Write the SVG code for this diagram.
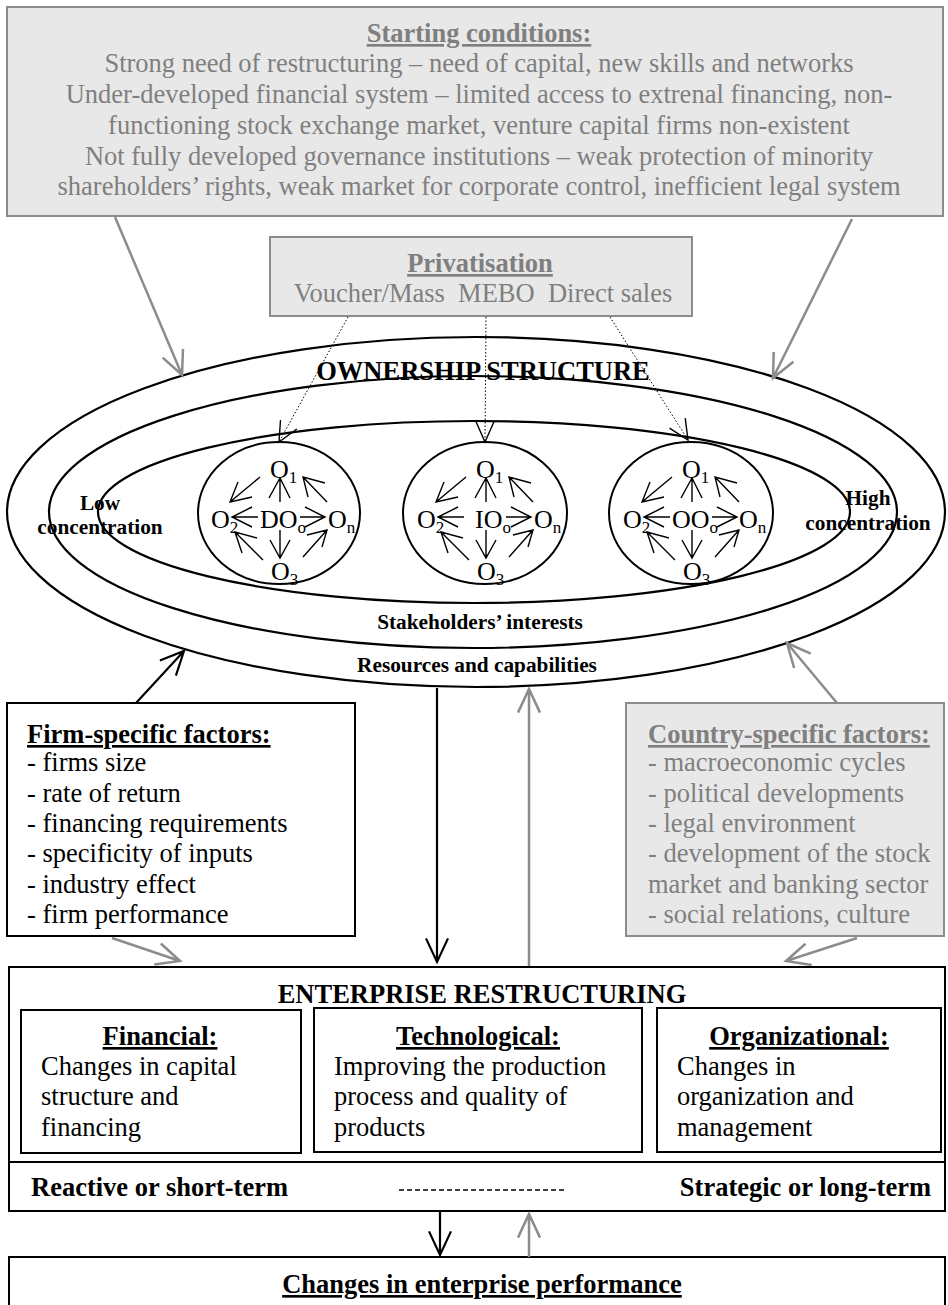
<svg xmlns="http://www.w3.org/2000/svg" xmlns:xlink="http://www.w3.org/1999/xlink" width="948" height="1305" viewBox="0 0 948 1305">
  <defs>
    <style>
      text { font-family: "Liberation Serif", "Times New Roman", serif; font-size: 26.5px; fill: #000; }
      .b { font-weight: bold; }
      .u { text-decoration: underline; }
      .g { fill: #7f7f7f; }
      .mid { text-anchor: middle; }
      .end { text-anchor: end; }
      .small { font-size: 21.3px; font-weight: bold; }
      .own { font-size: 26px; }
      .sub { font-size: 17px; }
      .box { fill: #fff; stroke: #000; stroke-width: 2; }
      .gbox { fill: #e8e8e8; stroke: #8c8c8c; stroke-width: 2; }
      .ring { fill: none; stroke: #000; stroke-width: 2.2; }
      .cir { fill: none; stroke: #000; stroke-width: 2; }
      .ga { fill: none; stroke: #8c8c8c; stroke-width: 2.5; }
      .ka { fill: none; stroke: #000; stroke-width: 2.2; }
      .inner { fill: none; stroke: #000; stroke-width: 1.4; }
      .dot { fill: none; stroke: #000; stroke-width: 1; stroke-dasharray: 1.5 2; }
      .dash { fill: none; stroke: #000; stroke-width: 1.3; stroke-dasharray: 5 3; }
    </style>
    <!-- owner-to-owner arrows drawn around a circle centre at (0,0) -->
    <path id="ownerArrows" class="inner" d="
      M1,-11 V-35 M-10,-15 L1,-35 L11,-15
      M1,17 V45 M-9,27 L1,45 L11,27
      M-21,4 H-47 M-27,-6 L-47,4 L-27,14
      M21,4 H46 M26,-6 L46,4 L26,14
      M-19,-36 L-49,-11 M-41,-31 L-49,-11 L-27,-16
      M48,-11 L24,-36 M29,-16 L24,-36 L46,-30
      M-16,47 L-44,19 M-37,40 L-44,19 L-22,25
      M24,44 L48,17 M28,22 L48,17 L43,34"/>
  </defs>

  <rect x="0" y="0" width="948" height="1305" fill="#fff"/>

  <!-- Starting conditions -->
  <g id="starting-conditions">
    <rect class="gbox" x="7" y="7" width="936" height="209"/>
    <text class="g b u mid" x="479" y="42">Starting conditions:</text>
    <text class="g mid" x="479" y="72">Strong need of restructuring – need of capital, new skills and networks</text>
    <text class="g mid" x="479" y="103">Under-developed financial system – limited access to extrenal financing, non-</text>
    <text class="g mid" x="479" y="134">functioning stock exchange market, venture capital firms non-existent</text>
    <text class="g mid" x="479" y="164.5">Not fully developed governance institutions – weak protection of minority</text>
    <text class="g mid" x="479" y="195">shareholders’ rights, weak market for corporate control, inefficient legal system</text>
  </g>

  <!-- Privatisation -->
  <g id="privatisation">
    <rect class="gbox" x="270" y="237" width="422" height="79"/>
    <text class="g b u mid" x="480" y="272">Privatisation</text>
    <text class="g mid" x="483" y="302" xml:space="preserve" style="white-space:pre">Voucher/Mass  MEBO  Direct sales</text>
  </g>

  <!-- Ownership structure rings -->
  <g id="ownership-structure">
    <ellipse class="ring" cx="476" cy="512" rx="469" ry="175"/>
    <ellipse class="ring" cx="473" cy="512" rx="424" ry="136"/>
    <ellipse class="ring" cx="474" cy="512" rx="376" ry="91"/>
    <text class="b mid" x="483" y="380">OWNERSHIP STRUCTURE</text>
    <text class="small mid" x="480" y="629">Stakeholders’ interests</text>
    <text class="small mid" x="477" y="672">Resources and capabilities</text>
    <text class="small mid" x="100" y="510">Low</text>
    <text class="small mid" x="100" y="534">concentration</text>
    <text class="small mid" x="868" y="505">High</text>
    <text class="small mid" x="868" y="530">concentration</text>
  </g>

  <!-- Dispersed ownership -->
  <g id="owners-do">
    <ellipse class="cir" cx="279" cy="513" rx="81" ry="71"/>
    <use xlink:href="#ownerArrows" x="279" y="513"/>
    <text class="own" x="270" y="478">O<tspan class="sub" dy="5">1</tspan></text>
    <text class="own" x="211" y="528">O<tspan class="sub" dy="5">2</tspan></text>
    <text class="own" x="260" y="528">DO<tspan class="sub" dy="5">o</tspan></text>
    <text class="own" x="328" y="528">O<tspan class="sub" dy="5">n</tspan></text>
    <text class="own" x="271" y="580">O<tspan class="sub" dy="5">3</tspan></text>
  </g>

  <!-- Insider ownership -->
  <g id="owners-io">
    <ellipse class="cir" cx="485" cy="513" rx="82" ry="71"/>
    <use xlink:href="#ownerArrows" x="485" y="513"/>
    <text class="own" x="476" y="478">O<tspan class="sub" dy="5">1</tspan></text>
    <text class="own" x="417" y="528">O<tspan class="sub" dy="5">2</tspan></text>
    <text class="own" x="475" y="528">IO<tspan class="sub" dy="5">o</tspan></text>
    <text class="own" x="534" y="528">O<tspan class="sub" dy="5">n</tspan></text>
    <text class="own" x="477" y="580">O<tspan class="sub" dy="5">3</tspan></text>
  </g>

  <!-- Outsider ownership -->
  <g id="owners-oo">
    <ellipse class="cir" cx="691" cy="513" rx="82" ry="71"/>
    <use xlink:href="#ownerArrows" x="691" y="513"/>
    <text class="own" x="682" y="478">O<tspan class="sub" dy="5">1</tspan></text>
    <text class="own" x="623" y="528">O<tspan class="sub" dy="5">2</tspan></text>
    <text class="own" x="672" y="528">OO<tspan class="sub" dy="5">o</tspan></text>
    <text class="own" x="739" y="528">O<tspan class="sub" dy="5">n</tspan></text>
    <text class="own" x="683" y="580">O<tspan class="sub" dy="5">3</tspan></text>
  </g>

  <!-- Firm-specific factors -->
  <g id="firm-factors">
    <rect class="box" x="7" y="703" width="348" height="233"/>
    <text class="b u" x="27" y="743">Firm-specific factors:</text>
    <text x="27" y="771">- firms size</text>
    <text x="27" y="801.5">- rate of return</text>
    <text x="27" y="832">- financing requirements</text>
    <text x="27" y="862">- specificity of inputs</text>
    <text x="27" y="892.5">- industry effect</text>
    <text x="27" y="923">- firm performance</text>
  </g>

  <!-- Country-specific factors -->
  <g id="country-factors">
    <rect class="gbox" x="626" y="703" width="318" height="233"/>
    <text class="g b u" x="648" y="743">Country-specific factors:</text>
    <text class="g" x="648" y="771">- macroeconomic cycles</text>
    <text class="g" x="648" y="801.5">- political developments</text>
    <text class="g" x="648" y="832">- legal environment</text>
    <text class="g" x="648" y="862">- development of the stock</text>
    <text class="g" x="648" y="892.5">market and banking sector</text>
    <text class="g" x="648" y="923">- social relations, culture</text>
  </g>

  <!-- Enterprise restructuring -->
  <g id="enterprise-restructuring">
    <rect class="box" x="9" y="967" width="936" height="244"/>
    <line x1="9" y1="1162" x2="945" y2="1162" stroke="#000" stroke-width="2"/>
    <text class="b mid" x="482" y="1003">ENTERPRISE RESTRUCTURING</text>
    <text class="b" x="31" y="1196">Reactive or short-term</text>
    <line class="dash" x1="399" y1="1190" x2="565" y2="1190"/>
    <text class="b end" x="931" y="1196">Strategic or long-term</text>
  </g>

  <g id="financial">
    <rect class="box" x="21" y="1010" width="280" height="143"/>
    <text class="b u mid" x="160" y="1045">Financial:</text>
    <text x="41" y="1075">Changes in capital</text>
    <text x="41" y="1105">structure and</text>
    <text x="41" y="1136">financing</text>
  </g>

  <g id="technological">
    <rect class="box" x="314" y="1008" width="328" height="144"/>
    <text class="b u mid" x="478" y="1045">Technological:</text>
    <text x="334" y="1075">Improving the production</text>
    <text x="334" y="1105">process and quality of</text>
    <text x="334" y="1136">products</text>
  </g>

  <g id="organizational">
    <rect class="box" x="657" y="1008" width="284" height="144"/>
    <text class="b u mid" x="799" y="1045">Organizational:</text>
    <text x="677" y="1075">Changes in</text>
    <text x="677" y="1105">organization and</text>
    <text x="677" y="1136">management</text>
  </g>

  <!-- Performance -->
  <g id="performance">
    <rect class="box" x="9" y="1257" width="936" height="80"/>
    <text class="b u mid" x="482" y="1293">Changes in enterprise performance</text>
  </g>

  <!-- Connectors -->
  <g id="connectors">
    <!-- starting conditions into the ownership rings -->
    <path class="ga" d="M115,217 L182,375 M183,349 L182,375 L162.7,357.6"/>
    <path class="ga" d="M852,219 L773,378 M793.4,361.8 L773,378 L773.7,352"/>
    <!-- privatisation methods to ownership types -->
    <path class="dot" d="M348,317 L279,442"/>
    <path class="dot" d="M486,317 L485,442"/>
    <path class="dot" d="M610,317 L688,440"/>
    <path class="inner" d="M296.8,429 L279,442 L280.5,420"/>
    <path class="inner" d="M475.7,421 L485,442 L494.3,421"/>
    <path class="inner" d="M685.2,418.2 L688,440 L669.5,428.1"/>
    <!-- factors into the ownership rings -->
    <path class="ka" d="M136,703 L184,651 M159.9,660.6 L184,651 L175.9,675.7"/>
    <path class="ga" d="M837,703 L787,643 M794.1,668 L787,643 L810.7,653.7"/>
    <!-- factors into restructuring -->
    <path class="ga" d="M112,938 L180,961 M160.8,943.5 L180,961 L154.3,964.6"/>
    <path class="ga" d="M857,938 L786,961 M805.5,943.8 L786,961 L811.7,964.9"/>
    <!-- ownership to restructuring and back -->
    <path class="ka" d="M437,688 L437,962 M426,938.4 L437,962 L448,938.4"/>
    <path class="ga" d="M529,966 L529,689 M518,712.6 L529,689 L540,712.6"/>
    <!-- restructuring to performance and back -->
    <path class="ka" d="M440,1212 L440,1255 M429,1231.4 L440,1255 L451,1231.4"/>
    <path class="ga" d="M529,1257 L529,1214 M518,1237.6 L529,1214 L540,1237.6"/>
  </g>
</svg>
